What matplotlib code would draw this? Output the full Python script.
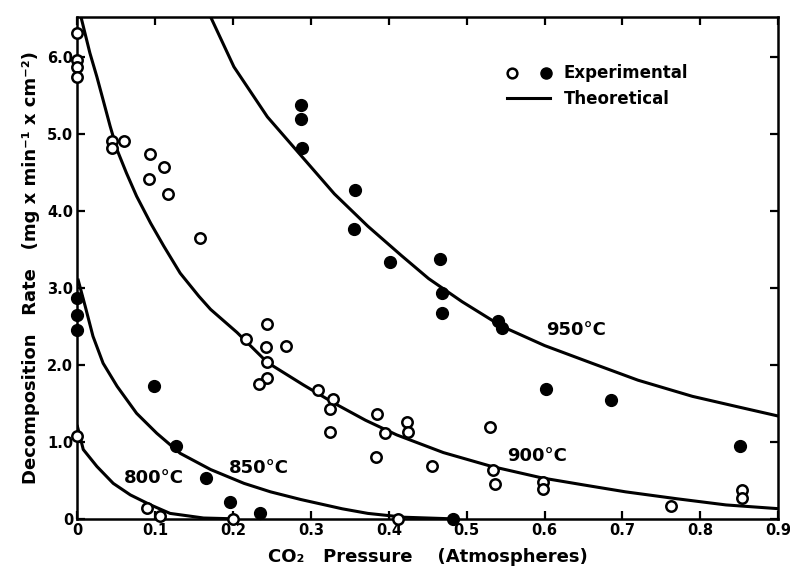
import matplotlib
matplotlib.use("Agg")
import matplotlib.pyplot as plt
from matplotlib.lines import Line2D
from matplotlib.legend_handler import HandlerTuple

# experimental points, open symbols (800 and 900 C)
open_800_x = [0.0, 0.090, 0.106, 0.200]
open_800_y = [1.07, 0.14, 0.03, 0.0]
open_900_x = [0.0, 0.0, 0.0, 0.0, 0.044, 0.060, 0.044, 0.093, 0.092, 0.111, 0.116, 0.158,
              0.244, 0.216, 0.242, 0.268, 0.243, 0.244, 0.233, 0.309, 0.328, 0.325, 0.325,
              0.385, 0.395, 0.384, 0.423, 0.424, 0.456, 0.530, 0.534, 0.536, 0.598, 0.598,
              0.762, 0.853, 0.853, 0.412]
open_900_y = [6.31, 5.96, 5.87, 5.74, 4.91, 4.91, 4.81, 4.74, 4.41, 4.57, 4.22, 3.65,
              2.53, 2.34, 2.23, 2.25, 2.04, 1.83, 1.75, 1.67, 1.55, 1.42, 1.13,
              1.36, 1.11, 0.80, 1.26, 1.13, 0.69, 1.19, 0.63, 0.45, 0.48, 0.39,
              0.16, 0.37, 0.27, 0.0]

# experimental points, filled symbols (850 and 950 C)
fill_850_x = [0.0, 0.0, 0.0, 0.098, 0.127, 0.165, 0.196, 0.235, 0.483]
fill_850_y = [2.87, 2.65, 2.45, 1.73, 0.94, 0.53, 0.22, 0.07, 0.0]
fill_950_x = [0.287, 0.287, 0.289, 0.357, 0.355, 0.402, 0.466, 0.468, 0.468, 0.540, 0.545,
              0.602, 0.685, 0.851]
fill_950_y = [5.38, 5.19, 4.82, 4.27, 3.77, 3.33, 3.37, 2.93, 2.67, 2.57, 2.48,
              1.69, 1.54, 0.94]

# theoretical curves
th_800_x = [0.0, 0.0075, 0.025, 0.046, 0.068, 0.094, 0.119, 0.162, 0.20]
th_800_y = [1.20, 0.90, 0.68, 0.46, 0.31, 0.18, 0.07, 0.01, 0.0]
th_850_x = [0.001, 0.010, 0.020, 0.033, 0.051, 0.076, 0.102, 0.132, 0.171, 0.214, 0.248,
            0.287, 0.34, 0.373, 0.42, 0.48]
th_850_y = [3.10, 2.76, 2.37, 2.02, 1.72, 1.37, 1.11, 0.85, 0.64, 0.46, 0.35,
            0.25, 0.13, 0.07, 0.02, 0.0]
th_900_x = [0.005, 0.016, 0.025, 0.033, 0.042, 0.051, 0.063, 0.076, 0.094, 0.111, 0.132, 0.156,
            0.171, 0.205, 0.244, 0.290, 0.330, 0.370, 0.410, 0.470, 0.532, 0.597, 0.650,
            0.704, 0.770, 0.833, 0.902]
th_900_y = [6.50, 6.05, 5.74, 5.44, 5.10, 4.79, 4.49, 4.19, 3.84, 3.54, 3.19, 2.89,
            2.72, 2.42, 2.03, 1.74, 1.50, 1.28, 1.09, 0.86, 0.68, 0.53, 0.44,
            0.35, 0.26, 0.18, 0.13]
th_950_x = [0.171, 0.201, 0.244, 0.287, 0.330, 0.373, 0.416, 0.451, 0.494, 0.545, 0.600, 0.661,
            0.72, 0.790, 0.85, 0.902]
th_950_y = [6.52, 5.87, 5.22, 4.72, 4.22, 3.80, 3.42, 3.12, 2.82, 2.50, 2.25, 2.02,
            1.80, 1.59, 1.45, 1.33]

curve_labels = ["800°C", "850°C", "900°C", "950°C"]
label_x = [0.098, 0.233, 0.59, 0.64]
label_y = [0.53, 0.66, 0.81, 2.45]

x_ticks = [0, 0.1, 0.2, 0.3, 0.4, 0.5, 0.6, 0.7, 0.8, 0.9]
x_ticklabels = ["0", "0.1", "0.2", "0.3", "0.4", "0.5", "0.6", "0.7", "0.8", "0.9"]
y_ticks = [0, 1, 2, 3, 4, 5, 6]
y_ticklabels = ["0", "1.0", "2.0", "3.0", "4.0", "5.0", "6.0"]

plt.rcParams['font.family'] = ['DejaVu Sans']
plt.rcParams['font.weight'] = 'bold'

fig = plt.figure(figsize=(7.9, 5.79), dpi=100)
ax = fig.add_axes([0.098, 0.104, 0.887, 0.867])

lw = 2.2
for cx, cy in [(th_800_x, th_800_y), (th_850_x, th_850_y), (th_900_x, th_900_y), (th_950_x, th_950_y)]:
    ax.plot(cx, cy, color='black', lw=lw, solid_joinstyle='round', zorder=2)

for px, py in [(open_800_x, open_800_y), (open_900_x, open_900_y)]:
    ax.plot(px, py, 'o', ms=7.5, mfc='white', mec='black', mew=1.8, clip_on=False, zorder=3)
for px, py in [(fill_850_x, fill_850_y), (fill_950_x, fill_950_y)]:
    ax.plot(px, py, 'o', ms=8.5, mfc='black', mec='black', clip_on=False, zorder=3)

for t, tx, ty in zip(curve_labels, label_x, label_y):
    ax.text(tx, ty, t, fontsize=13, fontweight='bold', ha='center', va='center')

ax.set_xlim(0, 0.9)
ax.set_ylim(0, 6.52)
ax.set_xticks(x_ticks)
ax.set_xticklabels(x_ticklabels)
ax.set_yticks(y_ticks)
ax.set_yticklabels(y_ticklabels)
ax.tick_params(direction='in', length=6, width=1.6, labelsize=10.5, top=True, right=True, pad=3)
for lab in ax.get_xticklabels() + ax.get_yticklabels():
    lab.set_fontweight('bold')
for s in ax.spines.values():
    s.set_linewidth(1.8)

ax.set_xlabel("CO₂   Pressure    (Atmospheres)", fontsize=13, fontweight='bold', labelpad=7)
ax.set_ylabel("Decomposition   Rate   (mg x min⁻¹ x cm⁻²)", fontsize=13, fontweight='bold', labelpad=5)

# legend
h_open = Line2D([], [], ls='none', marker='o', ms=7, mfc='white', mec='black', mew=1.8)
h_fill = Line2D([], [], ls='none', marker='o', ms=8, mfc='black', mec='black')
h_line = Line2D([], [], color='black', lw=lw)
ax.legend([(h_open, h_fill), h_line], ["Experimental", "Theoretical"],
          handler_map={tuple: HandlerTuple(ndivide=None, pad=1.5)},
          loc='upper right', bbox_to_anchor=(0.893, 0.935), frameon=False,
          prop={'size': 12, 'weight': 'bold'}, handlelength=2.6, handletextpad=0.8, labelspacing=0.45)

fig.savefig("out.png", dpi=100)
